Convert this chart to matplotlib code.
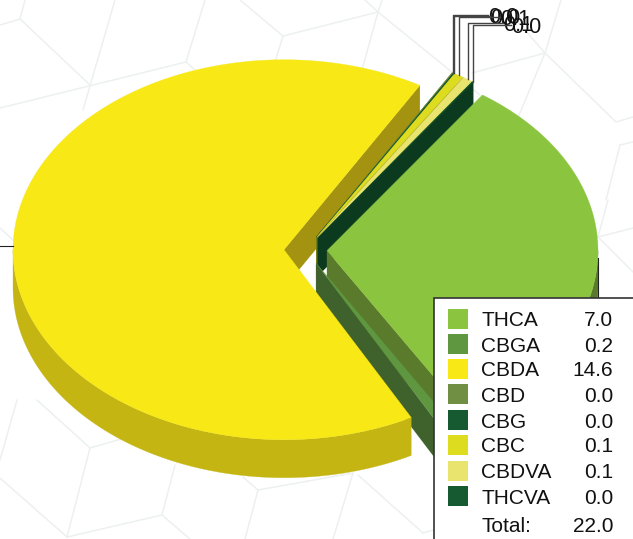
import numpy as np
import matplotlib
matplotlib.use("Agg")
import matplotlib.pyplot as plt
from matplotlib.patches import Polygon, Rectangle

plt.rcParams['font.family'] = ['Liberation Sans', 'DejaVu Sans']

names = ['THCA', 'CBGA', 'CBDA', 'CBD', 'CBG', 'CBC', 'CBDVA', 'THCVA']
legend_values = ['7.0', '0.2', '14.6', '0.0', '0.0', '0.1', '0.1', '0.0']
total_label = '22.0'
# unrounded estimates
values = [6.985, 0.165, 14.55, 0.015, 0.015, 0.125, 0.13, 0.015]
face = ['#8bc53f', '#5f9741', '#f7e816', '#718f42', '#155a30', '#dedc1f', '#e8e46e', '#155a30']
side = ['#5a7a2c', '#3f612b', '#c4b512', '#4f642e', '#0c3a1f', '#9b9a16', '#a2a04d', '#0c3a1f']
cut_yellow = '#a39310'
small_labels = ['CBD', 'CBG', 'CBC', 'CBDVA', 'THCVA']

label_y = {'CBD': 15, 'CBG': 16, 'CBC': 17, 'CBDVA': 23, 'THCVA': 25}
label_x = {'CBD': 488, 'CBG': 490, 'CBC': 500, 'CBDVA': 503, 'THCVA': 511}

bg_segments = [((20,19),(0,25)),((20,19),(25,0)),((20,19),(89,84)),((115,0),(83,110)),((0,108),(186,62)),
               ((205,0),(186,62)),((186,62),(195,70)),((240,0),(283,36)),((283,36),(378,12)),((283,36),(275,62)),
               ((365,0),(378,12)),((382,0),(378,12)),((378,12),(362,70)),((378,12),(480,95)),((472,73),(545,53)),
               ((545,53),(561,0)),((545,53),(517,120)),((516,20),(545,53)),((545,53),(616,122)),((616,122),(633,117)),
               ((620,145),(633,142)),((620,145),(606,200)),((598,237),(608,200)),((598,237),(633,228)),((598,237),(633,272)),
               ((90,448),(128,437)),((37,400),(90,448)),((90,448),(67,537)),((0,478),(67,537)),((67,537),(162,515)),
               ((162,515),(175,465)),((162,515),(190,539)),((258,490),(245,539)),((258,490),(243,477)),((258,490),(353,473)),
               ((353,473),(333,539)),((358,475),(423,533)),((423,533),(433,530)),((0,460),(17,400)),((0,228),(13,240))]

W, H = 633, 539
fig = plt.figure(figsize=(W/100, H/100), dpi=100)
ax = fig.add_axes([0, 0, 1, 1])
ax.set_xlim(0, W); ax.set_ylim(H, 0); ax.axis('off')

for a, b in bg_segments:
    ax.plot([a[0], b[0]], [a[1], b[1]], color='#edf0f0', lw=1.1, zorder=1, solid_capstyle='round')

cx, cy, rx, ry, depth, explode = 305.5, 250.0, 271.0, 190.0, 38.0, 21.5
start = 55.0
sweeps = np.array(values) / sum(values) * 360
ends = start - np.cumsum(sweeps)
starts = ends + sweeps
mids = np.radians((starts + ends) / 2)
apex = [(cx + explode*np.cos(m), cy - explode*np.sin(m)*ry/rx) for m in mids]

def pt(i, deg):
    t = np.radians(deg)
    return apex[i][0] + rx*np.cos(t), apex[i][1] - ry*np.sin(t)

z = [2]
def add(pts, color):
    ax.add_patch(Polygon(pts, closed=True, facecolor=color, edgecolor=color, lw=0.2, zorder=z[0]))
    z[0] += 1

def draw_cut(i, deg, color):
    p = pt(i, deg); a = apex[i]
    add([a, p, (p[0], p[1]+depth), (a[0], a[1]+depth)], color)

def draw_outer(i, d0, d1):
    A = np.array([pt(i, d) for d in np.linspace(d0, d1, 300)])
    B = A + [0, depth]
    add(np.vstack([A, B[::-1]]), side[i])

def draw_face(i):
    A = np.array([pt(i, d) for d in np.linspace(starts[i], ends[i], 400)])
    add(np.vstack([[apex[i]], A]), face[i])

# far to near
draw_cut(2, ends[2], cut_yellow)
for i in [3, 4, 5, 6, 7]:
    draw_cut(i, starts[i], side[i]); draw_cut(i, ends[i], side[i])
for i in [3, 4, 5, 6, 7]:
    draw_face(i)
draw_outer(0, 0, ends[0]); draw_cut(0, ends[0], side[0]); draw_face(0)
draw_outer(1, starts[1], ends[1]); draw_cut(1, ends[1], side[1]); draw_face(1)
draw_outer(2, -180, starts[2]); draw_face(2)

zt = z[0] + 1
# leader lines
for i, n in enumerate(names):
    if n in small_labels:
        p = pt(i, (starts[i]+ends[i])/2)
        ax.plot([p[0], p[0], label_x[n]], [p[1], label_y[n], label_y[n]], color='#444444', lw=1.0, zorder=zt)
        ax.text(label_x[n], label_y[n], legend_values[i], fontsize=15.5, ha='left', va='center_baseline', color='#111111', zorder=zt)
pa = pt(2, (starts[2]+ends[2])/2)
ax.plot([0, pa[0]], [pa[1], pa[1]], color='#222222', lw=0.8, zorder=zt)
pb = pt(0, (starts[0]+ends[0])/2)
ax.plot([pb[0], pb[0]], [pb[1], 297], color='#222222', lw=0.8, zorder=zt)

# legend
zl = zt + 1
ax.add_patch(Rectangle((433.5, 297.5), 220, 260, facecolor='white', edgecolor='#333333', lw=1.2, zorder=zl))
rows = [319, 344, 369, 394, 420, 445, 470.5, 496]
for n, v, c, y in zip(names, legend_values, face, rows):
    ax.add_patch(Rectangle((448, y-10), 20, 20, facecolor=c, edgecolor='none', zorder=zl+1))
    ax.text(481, y, n, fontsize=15, ha='left', va='center_baseline', color='#111111', zorder=zl+1)
    ax.text(613, y, v, fontsize=15, ha='right', va='center_baseline', color='#111111', zorder=zl+1)
ax.text(481, 525, 'Total:', fontsize=15, ha='left', va='center_baseline', color='#111111', zorder=zl+1)
ax.text(613, 525, total_label, fontsize=15, ha='right', va='center_baseline', color='#111111', zorder=zl+1)

fig.savefig('out.png', dpi=100, facecolor='white')
